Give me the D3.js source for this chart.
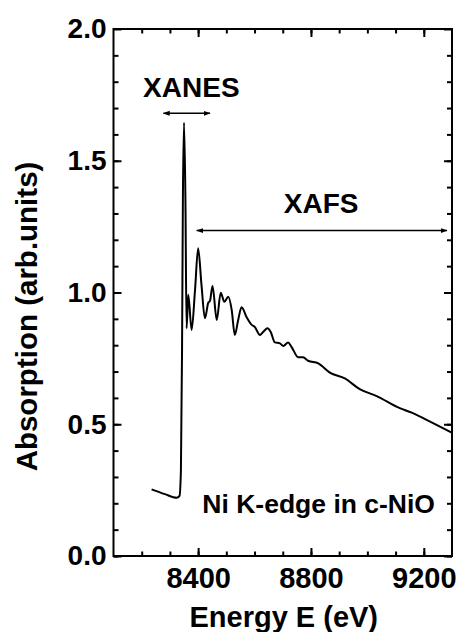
<!DOCTYPE html>
<html>
<head>
<meta charset="utf-8">
<script src="https://cdn.jsdelivr.net/npm/d3@7"></script>
<style>
  body { margin: 0; background: #fff; }
  svg text { font-family: Arial, "Liberation Sans", sans-serif; font-weight: bold; fill: #000; }
</style>
</head>
<body>
<div id="chart"></div>
<script>
// Ni K-edge absorption spectrum
var energy = [8235, 8282, 8324, 8334, 8339, 8343, 8346, 8350, 8355, 8359,
    8365, 8377, 8389, 8400, 8412, 8424, 8436, 8442, 8451, 8466,
    8480, 8493, 8507, 8519, 8530, 8542, 8554, 8572, 8590, 8601,
    8619, 8631, 8646, 8657, 8672, 8690, 8702, 8719, 8731, 8755,
    8772, 8790, 8826, 8867, 8920, 8973, 9033, 9115, 9157, 9233, 9299]
var absorption = [0.253, 0.235, 0.221, 0.228, 0.326, 0.782, 1.351, 1.644, 1.351, 0.864,
    0.991, 0.858, 1.009, 1.168, 1.028, 0.902, 0.961, 0.968, 1.025, 0.896,
    0.999, 0.965, 0.984, 0.934, 0.839, 0.896, 0.944, 0.906, 0.877, 0.869,
    0.839, 0.851, 0.864, 0.851, 0.811, 0.807, 0.797, 0.810, 0.794, 0.754,
    0.754, 0.741, 0.731, 0.696, 0.674, 0.633, 0.607, 0.561, 0.544, 0.504, 0.468]

var xMajor = [8400, 8800, 9200]
var xMinor = d3.range(8200, 9300, 100)
var yMajor = [0.0, 0.5, 1.0, 1.5, 2.0]
var yMinor = d3.range(0, 20).map(function (d) { return d / 10 })

// arrows: [from E, to E, at A]
var xanesArrow = [8277, 8442, 1.68]
var xafsArrow = [8395, 9282, 1.235]

var W = 459, H = 632
var pLeft = 113.5, pRight = 452, pTop = 29, pBottom = 556

var x = d3.scaleLinear().domain([8100, 9300]).range([pLeft, pRight])
var y = d3.scaleLinear().domain([0, 2]).range([pBottom, pTop])

var svg = d3.select('#chart').append('svg')
    .attr('width', W)
    .attr('height', H)

var defs = svg.append('defs')
defs.append('marker')
    .attr('id', 'head')
    .attr('viewBox', '0 0 10 10')
    .attr('refX', 9).attr('refY', 5)
    .attr('markerWidth', 7).attr('markerHeight', 7)
    .attr('markerUnits', 'userSpaceOnUse')
    .attr('orient', 'auto-start-reverse')
  .append('path')
    .attr('d', 'M0,1.5 L10,5 L0,8.5 Z')
    .attr('fill', '#000')

function styleAxis(g) {
    g.selectAll('.domain').remove()
    g.selectAll('line').attr('stroke', '#000').attr('stroke-width', 2)
}

// minor ticks on all four sides
svg.append('g').attr('transform', 'translate(0,' + pBottom + ')')
    .call(d3.axisBottom(x).tickValues(xMinor).tickSize(-4.5).tickFormat(''))
    .call(styleAxis)
svg.append('g').attr('transform', 'translate(0,' + pTop + ')')
    .call(d3.axisTop(x).tickValues(xMinor).tickSize(-4.5).tickFormat(''))
    .call(styleAxis)
svg.append('g').attr('transform', 'translate(' + pLeft + ',0)')
    .call(d3.axisLeft(y).tickValues(yMinor).tickSize(-5).tickFormat(''))
    .call(styleAxis)
svg.append('g').attr('transform', 'translate(' + pRight + ',0)')
    .call(d3.axisRight(y).tickValues(yMinor).tickSize(-5).tickFormat(''))
    .call(styleAxis)

// major ticks + labels
var xAx = svg.append('g').attr('transform', 'translate(0,' + pBottom + ')')
    .call(d3.axisBottom(x).tickValues(xMajor).tickSize(-8).tickPadding(11).tickFormat(d3.format('d')))
    .call(styleAxis)
xAx.selectAll('text').attr('font-size', 29)
svg.append('g').attr('transform', 'translate(0,' + pTop + ')')
    .call(d3.axisTop(x).tickValues(xMajor).tickSize(-8).tickFormat(''))
    .call(styleAxis)
var yAx = svg.append('g').attr('transform', 'translate(' + pLeft + ',0)')
    .call(d3.axisLeft(y).tickValues(yMajor).tickSize(-8).tickPadding(7).tickFormat(d3.format('.1f')))
    .call(styleAxis)
yAx.selectAll('text').attr('font-size', 28)
svg.append('g').attr('transform', 'translate(' + pRight + ',0)')
    .call(d3.axisRight(y).tickValues(yMajor).tickSize(-8).tickFormat(''))
    .call(styleAxis)

// frame
svg.append('rect')
    .attr('x', pLeft).attr('y', pTop)
    .attr('width', pRight - pLeft).attr('height', pBottom - pTop)
    .attr('fill', 'none').attr('stroke', '#000').attr('stroke-width', 2)

// spectrum
var line = d3.line()
    .x(function (d, i) { return x(energy[i]) })
    .y(function (d) { return y(d) })
    .curve(d3.curveMonotoneX)

svg.append('path')
    .datum(absorption)
    .attr('d', line)
    .attr('fill', 'none')
    .attr('stroke', '#000')
    .attr('stroke-width', 2)
    .attr('stroke-linejoin', 'round')

// range arrows
;[xanesArrow, xafsArrow].forEach(function (a) {
    svg.append('line')
        .attr('x1', x(a[0])).attr('x2', x(a[1]))
        .attr('y1', y(a[2])).attr('y2', y(a[2]))
        .attr('stroke', '#000').attr('stroke-width', 1.5)
        .attr('marker-start', 'url(#head)')
        .attr('marker-end', 'url(#head)')
})

// annotations
svg.append('text').attr('x', x(8376)).attr('y', y(1.743))
    .attr('text-anchor', 'middle').attr('font-size', 28).text('XANES')
svg.append('text').attr('x', x(8836)).attr('y', y(1.303))
    .attr('text-anchor', 'middle').attr('font-size', 28).text('XAFS')
svg.append('text').attr('x', 435).attr('y', 513)
    .attr('text-anchor', 'end').attr('font-size', 26.5).text('Ni K-edge in c-NiO')

// axis titles
svg.append('text').attr('x', (pLeft + pRight) / 2 + 1).attr('y', 627)
    .attr('text-anchor', 'middle').attr('font-size', 29).text('Energy E (eV)')
svg.append('text')
    .attr('transform', 'translate(36.5,316.5) rotate(-90)')
    .attr('text-anchor', 'middle').attr('font-size', 29.5).text('Absorption (arb.units)')
</script>
</body>
</html>
